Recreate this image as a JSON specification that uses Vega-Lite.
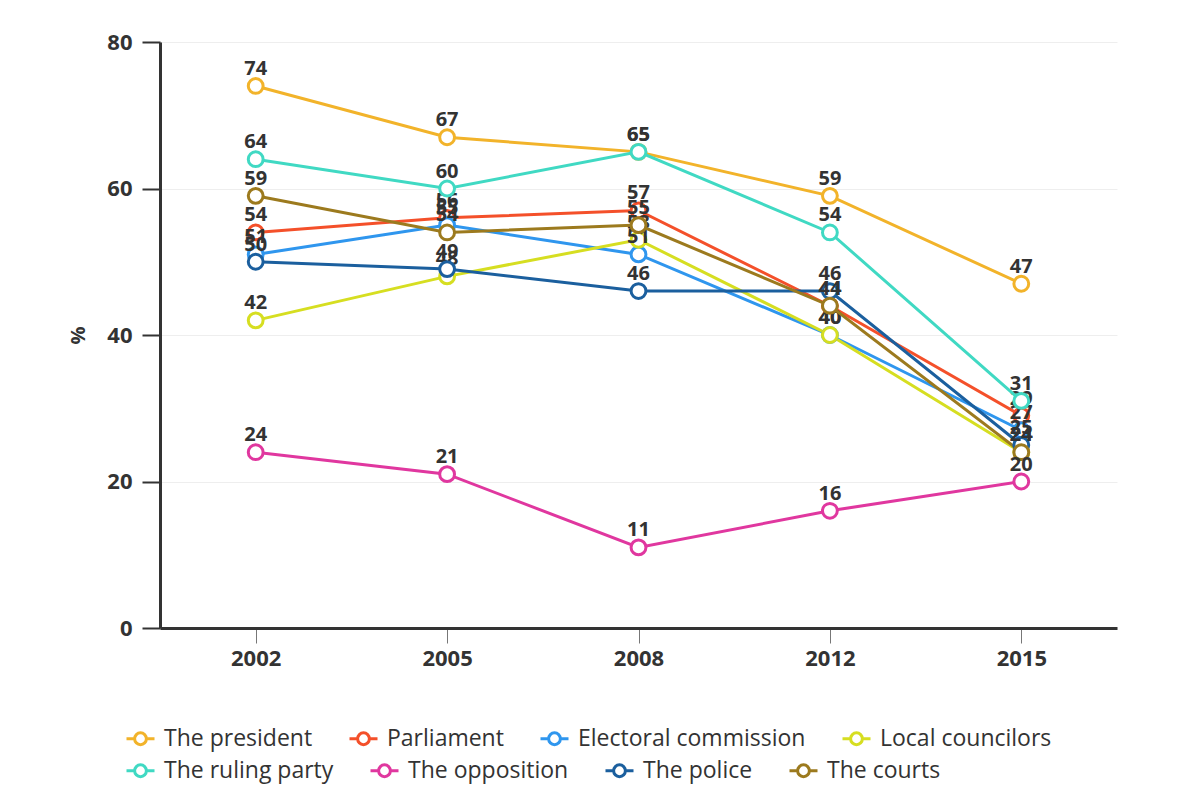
{
  "$schema": "https://vega.github.io/schema/vega-lite/v6.json",
  "width": 957,
  "height": 586,
  "autosize": {"type": "none"},
  "padding": {"left": 160, "top": 42, "right": 86, "bottom": 173},
  "background": "white",
  "config": {
    "view": {"stroke": null},
    "legend": {
      "orient": "none",
      "direction": "horizontal",
      "title": null,
      "labelFont": "Open Sans",
      "labelFontSize": 23,
      "labelColor": "#333333",
      "labelLimit": 400,
      "symbolType": "M-1,0L-0.42,0M0.42,0L1,0M-0.42,0A0.42,0.42,0,1,0,0.42,0A0.42,0.42,0,1,0,-0.42,0",
      "symbolSize": 784,
      "symbolStrokeWidth": 3,
      "symbolFillColor": "white",
      "labelOffset": 8,
      "columnPadding": 30
    }
  },
  "data": {
    "values": [
      {"year": "2002", "series": "The president", "value": 74},
      {"year": "2005", "series": "The president", "value": 67},
      {"year": "2008", "series": "The president", "value": 65},
      {"year": "2012", "series": "The president", "value": 59},
      {"year": "2015", "series": "The president", "value": 47},
      {"year": "2002", "series": "Parliament", "value": 54},
      {"year": "2005", "series": "Parliament", "value": 56},
      {"year": "2008", "series": "Parliament", "value": 57},
      {"year": "2012", "series": "Parliament", "value": 44},
      {"year": "2015", "series": "Parliament", "value": 29},
      {"year": "2002", "series": "Electoral commission", "value": 51},
      {"year": "2005", "series": "Electoral commission", "value": 55},
      {"year": "2008", "series": "Electoral commission", "value": 51},
      {"year": "2012", "series": "Electoral commission", "value": 40},
      {"year": "2015", "series": "Electoral commission", "value": 27},
      {"year": "2002", "series": "Local councilors", "value": 42},
      {"year": "2005", "series": "Local councilors", "value": 48},
      {"year": "2008", "series": "Local councilors", "value": 53},
      {"year": "2012", "series": "Local councilors", "value": 40},
      {"year": "2015", "series": "Local councilors", "value": 24},
      {"year": "2002", "series": "The ruling party", "value": 64},
      {"year": "2005", "series": "The ruling party", "value": 60},
      {"year": "2008", "series": "The ruling party", "value": 65},
      {"year": "2012", "series": "The ruling party", "value": 54},
      {"year": "2015", "series": "The ruling party", "value": 31},
      {"year": "2002", "series": "The opposition", "value": 24},
      {"year": "2005", "series": "The opposition", "value": 21},
      {"year": "2008", "series": "The opposition", "value": 11},
      {"year": "2012", "series": "The opposition", "value": 16},
      {"year": "2015", "series": "The opposition", "value": 20},
      {"year": "2002", "series": "The police", "value": 50},
      {"year": "2005", "series": "The police", "value": 49},
      {"year": "2008", "series": "The police", "value": 46},
      {"year": "2012", "series": "The police", "value": 46},
      {"year": "2015", "series": "The police", "value": 25},
      {"year": "2002", "series": "The courts", "value": 59},
      {"year": "2005", "series": "The courts", "value": 54},
      {"year": "2008", "series": "The courts", "value": 55},
      {"year": "2012", "series": "The courts", "value": 44},
      {"year": "2015", "series": "The courts", "value": 24}
    ]
  },
  "encoding": {
    "x": {
      "field": "year",
      "type": "ordinal",
      "scale": {"type": "point", "padding": 0.5},
      "axis": {
        "title": null,
        "labelAngle": 0,
        "ticks": true,
        "tickSize": 15,
        "tickWidth": 1,
        "tickColor": "#777777",
        "grid": false,
        "labelPadding": 5,
        "labelFont": "Open Sans",
        "labelFontSize": 22,
        "labelFontWeight": "bold",
        "labelColor": "#333333",
        "domainWidth": 3,
        "domainColor": "#333333"
      }
    },
    "y": {
      "field": "value",
      "type": "quantitative",
      "scale": {"domain": [0, 80], "nice": false},
      "axis": {
        "title": "%",
        "titleFont": "Open Sans",
        "titleFontSize": 20,
        "titleFontWeight": "bold",
        "titleColor": "#333333",
        "titlePadding": 18,
        "values": [0, 20, 40, 60, 80],
        "labelFont": "Open Sans",
        "labelFontSize": 22,
        "labelFontWeight": "bold",
        "labelColor": "#333333",
        "labelPadding": 10,
        "tickSize": 18,
        "tickWidth": 2,
        "tickColor": "#333333",
        "domainWidth": 3,
        "domainColor": "#333333",
        "gridColor": "#eeeeee",
        "gridWidth": 1
      }
    }
  },
  "layer": [
    {
      "transform": [{"filter": {"field": "series", "oneOf": ["The president", "Parliament", "Electoral commission", "Local councilors"]}}],
      "encoding": {
        "color": {
          "field": "series",
          "type": "nominal",
          "scale": {
            "domain": ["The president", "Parliament", "Electoral commission", "Local councilors"],
            "range": ["#F2B32A", "#F4502A", "#2F96EE", "#D6DE21"]
          },
          "legend": {"legendX": -35, "legendY": 681}
        }
      },
      "layer": [
        {"mark": {"type": "line", "strokeWidth": 3}},
        {"mark": {"type": "point", "filled": false, "fill": "white", "fillOpacity": 1, "opacity": 1, "strokeWidth": 3, "size": 220}},
        {
          "mark": {"type": "text", "dy": -11, "baseline": "alphabetic", "font": "Open Sans", "fontSize": 20, "fontWeight": "bold"},
          "encoding": {"text": {"field": "value"}, "color": {"value": "#333333"}}
        }
      ]
    },
    {
      "transform": [{"filter": {"field": "series", "oneOf": ["The ruling party", "The opposition", "The police", "The courts"]}}],
      "encoding": {
        "color": {
          "field": "series",
          "type": "nominal",
          "scale": {
            "domain": ["The ruling party", "The opposition", "The police", "The courts"],
            "range": ["#40D9C3", "#E0379F", "#1B5F9E", "#9C7A1E"]
          },
          "legend": {"legendX": -35, "legendY": 713}
        }
      },
      "layer": [
        {"mark": {"type": "line", "strokeWidth": 3}},
        {"mark": {"type": "point", "filled": false, "fill": "white", "fillOpacity": 1, "opacity": 1, "strokeWidth": 3, "size": 220}},
        {
          "mark": {"type": "text", "dy": -11, "baseline": "alphabetic", "font": "Open Sans", "fontSize": 20, "fontWeight": "bold"},
          "encoding": {"text": {"field": "value"}, "color": {"value": "#333333"}}
        }
      ]
    }
  ],
  "resolve": {"scale": {"color": "independent"}, "legend": {"color": "independent"}}
}
